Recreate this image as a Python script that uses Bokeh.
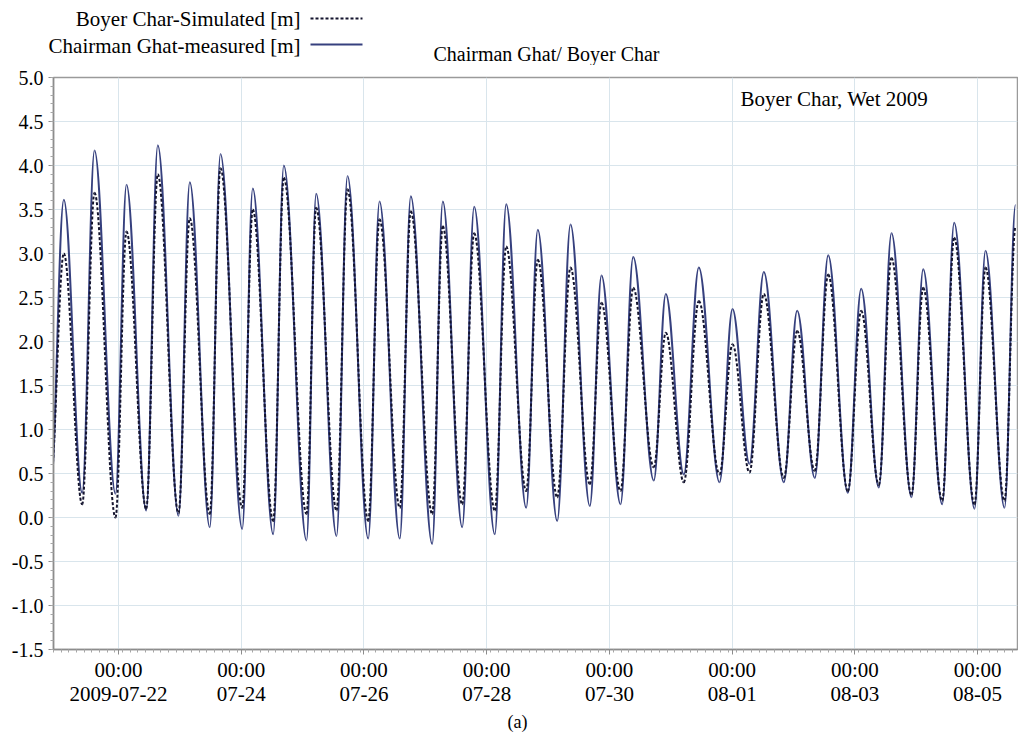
import numpy as np
import pandas as pd
from bokeh.plotting import figure
from bokeh.layouts import column
from bokeh.models import (ColumnDataSource, Range1d, FixedTicker, Label, Title,
                          PrintfTickFormatter)
from bokeh.core.properties import value
from bokeh.embed import file_html
from bokeh.resources import INLINE

# ---- data: times of successive low / high water ----
extrema_time = [
    "2009-07-20 21:24", "2009-07-21 02:37", "2009-07-21 09:48", "2009-07-21 14:37",
    "2009-07-21 22:50", "2009-07-22 03:08", "2009-07-22 10:50", "2009-07-22 15:22",
    "2009-07-22 23:28", "2009-07-23 03:53", "2009-07-23 11:42", "2009-07-23 15:53",
    "2009-07-24 00:23", "2009-07-24 04:31", "2009-07-24 12:30", "2009-07-24 16:39",
    "2009-07-25 01:32", "2009-07-25 05:19", "2009-07-25 13:16", "2009-07-25 17:34",
    "2009-07-26 01:40", "2009-07-26 06:05", "2009-07-26 14:01", "2009-07-26 18:19",
    "2009-07-27 02:41", "2009-07-27 06:50", "2009-07-27 14:25", "2009-07-27 19:07",
    "2009-07-28 03:10", "2009-07-28 07:38", "2009-07-28 15:27", "2009-07-28 19:59",
    "2009-07-29 03:35", "2009-07-29 08:47", "2009-07-29 16:20", "2009-07-29 20:54",
    "2009-07-30 04:20", "2009-07-30 09:18", "2009-07-30 17:21", "2009-07-30 22:03",
    "2009-07-31 05:05", "2009-07-31 10:58", "2009-07-31 19:03", "2009-08-01 00:08",
    "2009-08-01 06:47", "2009-08-01 12:23", "2009-08-01 20:12", "2009-08-02 01:26",
    "2009-08-02 08:19", "2009-08-02 13:34", "2009-08-02 21:14", "2009-08-03 02:28",
    "2009-08-03 09:21", "2009-08-03 14:19", "2009-08-03 22:08", "2009-08-04 02:43",
    "2009-08-04 10:09", "2009-08-04 14:50", "2009-08-04 22:47", "2009-08-05 03:05",
    "2009-08-05 10:31", "2009-08-05 14:49",
]

measured_level = [
    0.30, 3.61, 0.28, 4.17, 0.27, 3.78, 0.08, 4.23, 0.02, 3.81, -0.11, 4.13,
    -0.13, 3.74, -0.19, 4.00, -0.26, 3.68, -0.21, 3.88, -0.24, 3.59, -0.24, 3.65,
    -0.30, 3.59, -0.11, 3.53, -0.19, 3.56, 0.11, 3.27, -0.04, 3.33, 0.13, 2.75,
    0.15, 2.96, 0.42, 2.54, 0.49, 2.84, 0.40, 2.37, 0.61, 2.79, 0.40, 2.35,
    0.45, 2.98, 0.28, 2.60, 0.34, 3.23, 0.23, 2.82, 0.15, 3.35, 0.10, 3.03,
    0.11, 3.55,
]

simulated_level = [
    0.40, 3.00, 0.15, 3.69, 0.00, 3.25, 0.10, 3.90, 0.05, 3.40, 0.04, 3.97,
    0.11, 3.50, -0.04, 3.86, 0.04, 3.52, 0.08, 3.73, -0.04, 3.39, 0.11, 3.48,
    0.04, 3.31, 0.15, 3.23, 0.08, 3.08, 0.30, 2.93, 0.23, 2.84, 0.38, 2.44,
    0.30, 2.61, 0.57, 2.10, 0.40, 2.46, 0.49, 1.97, 0.51, 2.54, 0.45, 2.12,
    0.53, 2.76, 0.30, 2.35, 0.37, 2.95, 0.26, 2.61, 0.19, 3.18, 0.15, 2.84,
    0.19, 3.30,
]

tick_dates = ["2009-07-22", "2009-07-24", "2009-07-26", "2009-07-28",
              "2009-07-30", "2009-08-01", "2009-08-03", "2009-08-05"]
tick_labels = ["00:00\n2009-07-22", "00:00\n07-24", "00:00\n07-26", "00:00\n07-28",
               "00:00\n07-30", "00:00\n08-01", "00:00\n08-03", "00:00\n08-05"]
y_ticks = [-1.5, -1.0, -0.5, 0.0, 0.5, 1.0, 1.5, 2.0, 2.5, 3.0, 3.5, 4.0, 4.5, 5.0]

x_start = "2009-07-20 22:35"
x_end = "2009-08-05 15:36"

series_names = ["Boyer Char-Simulated [m]", "Chairman Ghat-measured [m]"]
title_text = "Chairman Ghat/ Boyer Char"
note_text = "Boyer Char, Wet 2009"
caption_text = "(a)"

MEAS_COLOR = "#36407e"
SIM_COLOR = "#14142e"
SIM_DASH = "3 2"
SERIF = "Liberation Serif"


def to_ms(vals):
    return pd.to_datetime(vals).values.astype("datetime64[ms]").astype("int64").astype(float)


K = 1.0 - 2.0 / np.pi  # control-point fraction giving a cosine-like swing


def swing_source(times, levels):
    t = to_ms(times)
    v = np.asarray(levels, dtype=float)
    x0, x1 = t[:-1], t[1:]
    y0, y1 = v[:-1], v[1:]
    dx = x1 - x0
    return ColumnDataSource(dict(x0=x0, y0=y0, x1=x1, y1=y1,
                                 cx0=x0 + K * dx, cy0=y0, cx1=x1 - K * dx, cy1=y1))


# ---------------- header strip: legend + title ----------------
TOP_H = 65
top = figure(width=1018, height=TOP_H, x_range=Range1d(0, 1018), y_range=Range1d(TOP_H, 0),
             x_axis_type=None, y_axis_type=None, output_backend="svg",
             toolbar_location=None, min_border=0)
top.frame_align = False
top.outline_line_color = None
top.background_fill_color = "white"
top.border_fill_color = "white"

top.text(x=[300, 300], y=[18, 45], text=series_names, text_align="right",
         text_baseline="middle", text_font=value(SERIF), text_font_size="21px",
         text_color="black")
top.text(x=[546], y=[53], text=[title_text], text_align="center",
         text_baseline="middle", text_font=value(SERIF), text_font_size="20px",
         text_color="black")
top.segment(x0=[310], y0=[18], x1=[362], y1=[18], line_color=SIM_COLOR,
            line_width=2, line_dash=SIM_DASH)
top.segment(x0=[310], y0=[44], x1=[362], y1=[44], line_color=MEAS_COLOR,
            line_width=2)

# ---------------- main chart ----------------
MAIN_H = 738 - TOP_H
p = figure(width=1018, height=MAIN_H,
           x_range=Range1d(to_ms([x_start])[0], to_ms([x_end])[0]),
           y_range=Range1d(-1.5, 5.0),
           output_backend="svg", toolbar_location=None,
           min_border_left=53, min_border_right=1,
           min_border_top=12, min_border_bottom=MAIN_H - 12 - 572)
p.frame_align = False

p.background_fill_color = "white"
p.border_fill_color = "white"
p.outline_line_color = "#9a9a9a"
p.outline_line_width = 1.5

tick_ms = to_ms(tick_dates)
minor_ms = np.arange(to_ms([x_start])[0] - 86400000, to_ms([x_end])[0] + 86400000, 3 * 3600000.0)
p.xaxis.ticker = FixedTicker(ticks=list(tick_ms), minor_ticks=list(minor_ms))
p.xaxis.major_label_overrides = {int(t): lab for t, lab in zip(tick_ms, tick_labels)}
p.yaxis.ticker = FixedTicker(ticks=y_ticks,
                             minor_ticks=list(np.round(np.arange(-1.5, 5.01, 0.1), 2)))
p.yaxis.formatter = PrintfTickFormatter(format="%.1f")

p.axis.axis_line_color = "#8c8c8c"
p.axis.axis_line_width = 1.5
p.axis.major_tick_line_color = "#8c8c8c"
p.axis.major_tick_in = 0
p.axis.major_tick_out = 5
p.axis.minor_tick_line_color = "#a6a6a6"
p.axis.minor_tick_in = 0
p.axis.minor_tick_out = 3
p.axis.major_label_text_font = SERIF
p.axis.major_label_text_color = "black"
p.xaxis.major_label_text_font_size = "21px"
p.yaxis.major_label_text_font_size = "20px"
p.xaxis.major_label_text_line_height = 1.0
p.yaxis.major_label_standoff = 5
p.xaxis.major_label_standoff = 3

p.xgrid.grid_line_color = "#d9e5ec"
p.ygrid.grid_line_color = "#d9e5ec"

meas_src = swing_source(extrema_time, measured_level)
sim_src = swing_source(extrema_time, simulated_level)

p.bezier(x0="x0", y0="y0", x1="x1", y1="y1", cx0="cx0", cy0="cy0",
         cx1="cx1", cy1="cy1", source=meas_src, line_color=MEAS_COLOR, line_width=2)
p.bezier(x0="x0", y0="y0", x1="x1", y1="y1", cx0="cx0", cy0="cy0",
         cx1="cx1", cy1="cy1", source=sim_src, line_color=SIM_COLOR, line_width=2,
         line_dash=SIM_DASH)

p.add_layout(Label(x=687, y=551, x_units="screen", y_units="screen", text=note_text,
                   text_font=SERIF, text_font_size="21px", text_color="black",
                   text_align="left", text_baseline="middle"))

p.add_layout(Title(text=caption_text, align="left", offset=454, text_font=SERIF,
                   text_font_size="18px", text_font_style="normal",
                   text_color="black", standoff=2), "below")

layout = column(top, p, spacing=0)
open("out.html", "w").write(file_html(layout, INLINE))
